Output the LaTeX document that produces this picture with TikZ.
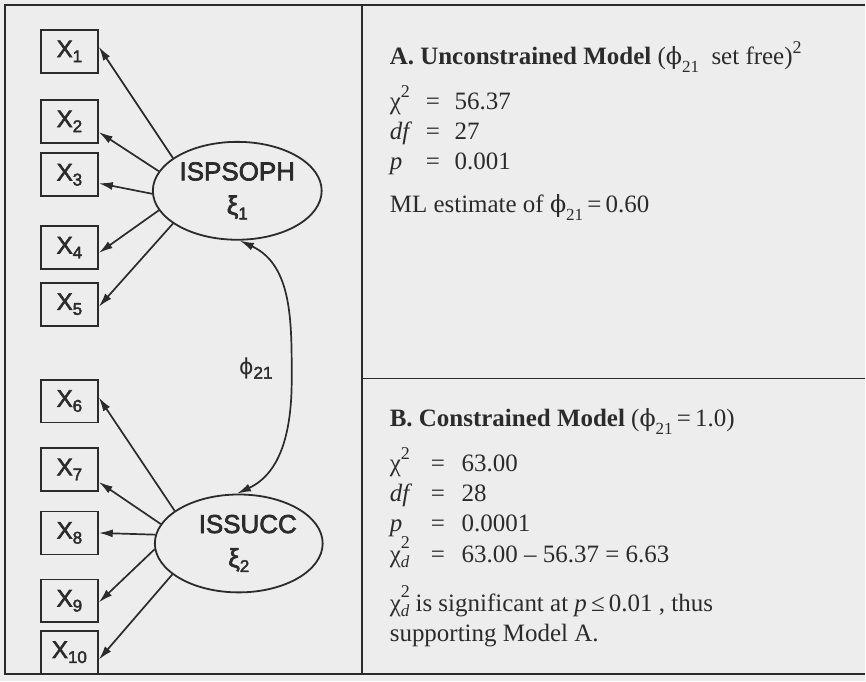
\documentclass[tikz,border=0pt]{standalone}
\usepackage{fontspec}
\setmainfont{Liberation Serif}
\setsansfont{Liberation Sans}[FakeBold=2.5]
\newfontfamily\phisans{DejaVu Sans}
\newfontfamily\phiserif{DejaVu Serif}[Scale=0.95]
\usetikzlibrary{arrows.meta,shapes.geometric}
\definecolor{ink}{HTML}{2b2b2b}
\definecolor{paper}{HTML}{ededed}

% lowered / raised figures at fixed sizes
\newcommand\lo[2][-5pt]{\raisebox{#1}{\fontsize{17}{17}\selectfont #2}}
\newcommand\hi[2][12pt]{\raisebox{#1}{\fontsize{18}{18}\selectfont #2}}
\newcommand\chisq{χ\hi{2}}
\newcommand\chid{χ\rlap{\hi[14pt]{2}}\lo[-5pt]{\itshape d}}
\newcommand\phiab{{\phiserif ϕ}\lo[-8pt]{21}}

\tikzset{
  obs/.style={draw=ink,line width=1.8pt,minimum width=57pt,minimum height=43pt,
    inner sep=0pt,text=ink,font=\sffamily\fontsize{24}{24}\selectfont},
  lat/.style={draw=ink,ellipse,line width=1.8pt,inner sep=0pt,align=center,
    text=ink,font=\sffamily\fontsize{26}{34}\selectfont},
  load/.style={ink,line width=1.7pt,-{Latex[length=14pt,width=8pt]}},
  cov/.style={ink,line width=1.7pt,{Latex[length=14pt,width=8pt]}-{Latex[length=14pt,width=8pt]}},
  stat/.style={anchor=base west,inner sep=0pt,text=ink,font=\rmfamily\fontsize{25}{29}\selectfont}
}

\begin{document}
\begin{tikzpicture}[x=1pt,y=-1pt]

  % paper + frame
  \fill[paper] (0,0) rectangle (866,682);
  \draw[ink,line width=1.8pt] (866,5) -- (5,5) -- (5,675) -- (866,675);
  \draw[ink,line width=1.8pt] (362,5) -- (362,675);
  \draw[ink,line width=1.6pt] (362,379) -- (866,379);

  % ---------------------------------------------------------------- INDICATORS
  \foreach \i/\y in {1/51.5,2/121.5,3/175,4/248,5/304.5,
                     6/401.5,7/470,8/533.5,9/601.5,10/653}
    \node[obs] (x\i) at (69.5,\y) {X\lo{\i}};

  % ---------------------------------------------------------------- LATENT FACTORS
  \node[lat,minimum width=169pt,minimum height=98pt] (isp) at (237.5,191)
    {ISPSOPH\\ξ\lo{1}};
  \node[lat,minimum width=168pt,minimum height=98pt] (iss) at (239,544)
    {\hspace*{18pt}ISSUCC\\ξ\lo{2}};

  % loadings
  \foreach \a/\t/\b in {153.6/x1/9,166/x2/-20,182.7/x3/-16,194/x4/-10,207.7/x5/-5}
    \draw[load] (isp.\a) -- (\t.\b);
  \foreach \a/\t/\b in {153/x6/7,166/x7/-23,174/x8/0,184/x9/-3,205/x10/-14}
    \draw[load] (iss.\a) -- (\t.\b);

  % factor covariance
  \coordinate (bend) at (292,380);
  \draw[cov] (isp.-87) to[out=-25,in=90] (bend) to[out=-90,in=25] (iss.92);
  \node[text=ink,font=\sffamily\fontsize{22}{22}\selectfont] (phi) at (256,369)
    {{\phisans ϕ}\lo[-4pt]{21}};

  % ---------------------------------------------------------------- MODEL A
  \node[stat] (headA) at (390,65)
    {\textbf{A. Unconstrained Model} (\phiab\ \ set free)\hi[11pt]{2}};
  \foreach \n/\y/\lab/\val in {1/110/\chisq/56.37,2/140/{\textit{df}}/27,
                               3/170/{\textit{p}}/0.001} {
    \node[stat] (labA\n) at (390,\y) {\lab};
    \node[stat] (eqA\n) at (426,\y) {=};
    \node[stat] (valA\n) at (455,\y) {\val};
  }
  \node[stat] (mlA) at (390,213) {ML estimate of \phiab\,=\,0.60};

  % ---------------------------------------------------------------- MODEL B
  \node[stat] (headB) at (390,427)
    {\textbf{B. Constrained Model} (\phiab\,=\,1.0)};
  \foreach \n/\y/\lab/\val in {1/472/\chisq/63.00,2/502/{\textit{df}}/28,
                               3/532/{\textit{p}}/0.0001,
                               4/563/\chid/{63.00 – 56.37 = 6.63}} {
    \node[stat] (labB\n) at (390,\y) {\lab};
    \node[stat] (eqB\n) at (431,\y) {=};
    \node[stat] (valB\n) at (462,\y) {\val};
  }
  \node[stat] (sigB) at (390,612)
    {\chid\ is significant at \textit{p}\,≤\,0.01 , thus};
  \node[stat] (supB) at (390,642) {supporting Model A.};

\end{tikzpicture}
\end{document}
